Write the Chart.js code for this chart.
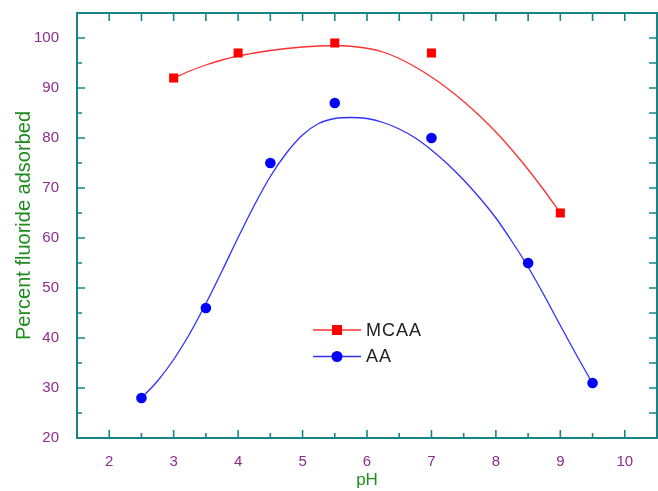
<!DOCTYPE html>
<html>
<head>
<meta charset="utf-8">
<script src="https://cdn.jsdelivr.net/npm/chart.js@4.4.1/dist/chart.umd.min.js"></script>
<style>
    body { margin: 0; background: #fff; }
    #phChart { display: block; }
</style>
</head>
<body>
<canvas id="phChart" width="658" height="491"></canvas>
<script>
// measured points
var mcaaPh = [3, 4, 5.5, 7, 9];
var mcaaVal = [92, 97, 99, 97, 65];
var aaPh = [2.5, 3.5, 4.5, 5.5, 7, 8.5, 9.5];
var aaVal = [28, 46, 75, 87, 80, 55, 31];

// fitted curves
var mcaaFitPh = [3, 3.25, 3.5, 3.75, 4, 4.25, 4.5, 4.75, 5, 5.25, 5.5, 5.75, 6, 6.25, 6.5, 6.75, 7, 7.25, 7.5, 7.75, 8, 8.25, 8.5, 8.75, 9];
var mcaaFitVal = [92, 93.4, 94.6, 95.6, 96.4, 97, 97.5, 97.9, 98.2, 98.4, 98.5, 98.35, 97.95, 97.2, 95.9, 94.2, 92.2, 89.9, 87.3, 84.4, 81.2, 77.6, 73.7, 69.5, 65];
var aaFitPh = [2.5, 2.75, 3, 3.25, 3.5, 3.75, 4, 4.25, 4.5, 4.75, 5, 5.25, 5.5, 5.75, 6, 6.25, 6.5, 6.75, 7, 7.25, 7.5, 7.75, 8, 8.25, 8.5, 8.75, 9, 9.25, 9.5];
var aaFitVal = [28, 31.4, 35.7, 40.9, 46.9, 53.4, 60.1, 66.5, 72.3, 77, 80.6, 82.9, 83.9, 84.1, 83.9, 83.1, 81.8, 80, 77.6, 74.8, 71.6, 68, 64, 59.3, 54.2, 48.5, 42.5, 36.6, 30.9];

var xTicks = [2, 3, 4, 5, 6, 7, 8, 9, 10];
var yTicks = [20, 30, 40, 50, 60, 70, 80, 90, 100];

var frameColor = '#178585';
var tickColor = '#8e2c8e';
var titleColor = '#1f8c1f';
var fontFamily = '"Liberation Sans", Arial, sans-serif';

function toXY(xs, ys) {
    return xs.map(function (x, i) { return { x: x, y: ys[i] }; });
}

// frame with inward ticks on all four sides
var framePlugin = {
    id: 'frame',
    afterDatasetsDraw: function (chart) {
        var ctx = chart.ctx;
        var a = chart.chartArea;
        var xs = chart.scales.x;
        var ys = chart.scales.y;
        ctx.save();
        ctx.strokeStyle = frameColor;
        ctx.lineWidth = 1.6;
        ctx.beginPath();
        xTicks.forEach(function (t) {
            var px = xs.getPixelForValue(t);
            ctx.moveTo(px, a.bottom); ctx.lineTo(px, a.bottom - 8);
            ctx.moveTo(px, a.top); ctx.lineTo(px, a.top + 8);
            var pm = xs.getPixelForValue(t + 0.5);
            if (t < 10) {
                ctx.moveTo(pm, a.bottom); ctx.lineTo(pm, a.bottom - 5);
                ctx.moveTo(pm, a.top); ctx.lineTo(pm, a.top + 8);
            }
        });
        yTicks.forEach(function (t) {
            var py = ys.getPixelForValue(t);
            ctx.moveTo(a.left, py); ctx.lineTo(a.left + 8, py);
            ctx.moveTo(a.right, py); ctx.lineTo(a.right - 8, py);
            if (t < 100) {
                var pm = ys.getPixelForValue(t + 5);
                ctx.moveTo(a.left, pm); ctx.lineTo(a.left + 5, pm);
                ctx.moveTo(a.right, pm); ctx.lineTo(a.right - 8, pm);
            }
        });
        ctx.stroke();
        ctx.lineWidth = 2;
        ctx.strokeRect(a.left, a.top, a.right - a.left, a.bottom - a.top);
        ctx.restore();
    }
};

// legend box inside the plot
var legendPlugin = {
    id: 'insideLegend',
    afterDraw: function (chart) {
        var ctx = chart.ctx;
        var a = chart.chartArea;
        var items = [
            { label: 'MCAA', color: '#ff0000', line: '#ff3030', style: 'rect' },
            { label: 'AA', color: '#0000ff', line: '#3030ff', style: 'circle' }
        ];
        var x0 = a.left + 236;
        var y0 = a.top + 317;
        ctx.save();
        items.forEach(function (it, i) {
            var y = y0 + i * 26.5;
            ctx.strokeStyle = it.line;
            ctx.lineWidth = 1.3;
            ctx.beginPath();
            ctx.moveTo(x0, y); ctx.lineTo(x0 + 48, y);
            ctx.stroke();
            ctx.fillStyle = it.color;
            if (it.style === 'rect') {
                ctx.fillRect(x0 + 24 - 5, y - 5, 10, 10);
            } else {
                ctx.beginPath();
                ctx.arc(x0 + 24, y, 5.5, 0, Math.PI * 2);
                ctx.fill();
            }
            ctx.fillStyle = '#222';
            ctx.font = '18px ' + fontFamily;
            ctx.letterSpacing = '1px';
            ctx.textBaseline = 'middle';
            ctx.fillText(it.label, x0 + 53, y + 1);
        });
        ctx.restore();
    }
};

var phCtx = document.getElementById('phChart');

new Chart(phCtx, {
    type: 'scatter',
    data: {
        datasets: [{
            label: 'MCAA',
            data: toXY(mcaaPh, mcaaVal),
            pointStyle: 'rect',
            pointRadius: 6.4,
            pointBackgroundColor: '#ff0000',
            pointBorderWidth: 0,
            showLine: false
        }, {
            label: 'AA',
            data: toXY(aaPh, aaVal),
            pointStyle: 'circle',
            pointRadius: 5.3,
            pointBackgroundColor: '#0000ff',
            pointBorderWidth: 0,
            showLine: false
        }, {
            label: 'MCAA fit',
            data: toXY(mcaaFitPh, mcaaFitVal),
            showLine: true,
            pointRadius: 0,
            borderColor: '#ff3030',
            borderWidth: 1.3,
            cubicInterpolationMode: 'monotone'
        }, {
            label: 'AA fit',
            data: toXY(aaFitPh, aaFitVal),
            showLine: true,
            pointRadius: 0,
            borderColor: '#3030ff',
            borderWidth: 1.3,
            cubicInterpolationMode: 'monotone'
        }]
    },
    options: {
        responsive: false,
        animation: false,
        layout: {
            autoPadding: false,
            padding: { top: 13, right: 1, left: 0, bottom: 0 }
        },
        plugins: {
            legend: { display: false },
            tooltip: { enabled: false }
        },
        scales: {
            x: {
                type: 'linear',
                min: 1.5,
                max: 10.5,
                grid: { display: false },
                border: { display: false },
                afterBuildTicks: function (s) {
                    s.ticks = xTicks.map(function (v) { return { value: v }; });
                },
                afterFit: function (s) {
                    s.height = 53;
                    s.paddingLeft = 0;
                    s.paddingRight = 0;
                },
                ticks: {
                    color: tickColor,
                    font: { family: fontFamily, size: 15 },
                    padding: 7,
                    maxRotation: 0,
                    autoSkip: false
                },
                title: {
                    display: true,
                    text: 'pH',
                    color: titleColor,
                    font: { family: fontFamily, size: 17 },
                    padding: { top: 0, bottom: 0 }
                }
            },
            y: {
                min: 20,
                max: 105,
                grid: { display: false },
                border: { display: false },
                afterBuildTicks: function (s) {
                    s.ticks = yTicks.map(function (v) { return { value: v }; });
                },
                afterFit: function (s) {
                    s.width = 77;
                    s.paddingTop = 0;
                    s.paddingBottom = 0;
                },
                ticks: {
                    color: tickColor,
                    font: { family: fontFamily, size: 15 },
                    padding: 10,
                    autoSkip: false
                },
                title: {
                    display: true,
                    text: 'Percent fluoride adsorbed',
                    color: titleColor,
                    font: { family: fontFamily, size: 20 },
                    padding: { top: 12, bottom: 0 }
                }
            }
        }
    },
    plugins: [framePlugin, legendPlugin]
});
</script>
</body>
</html>
